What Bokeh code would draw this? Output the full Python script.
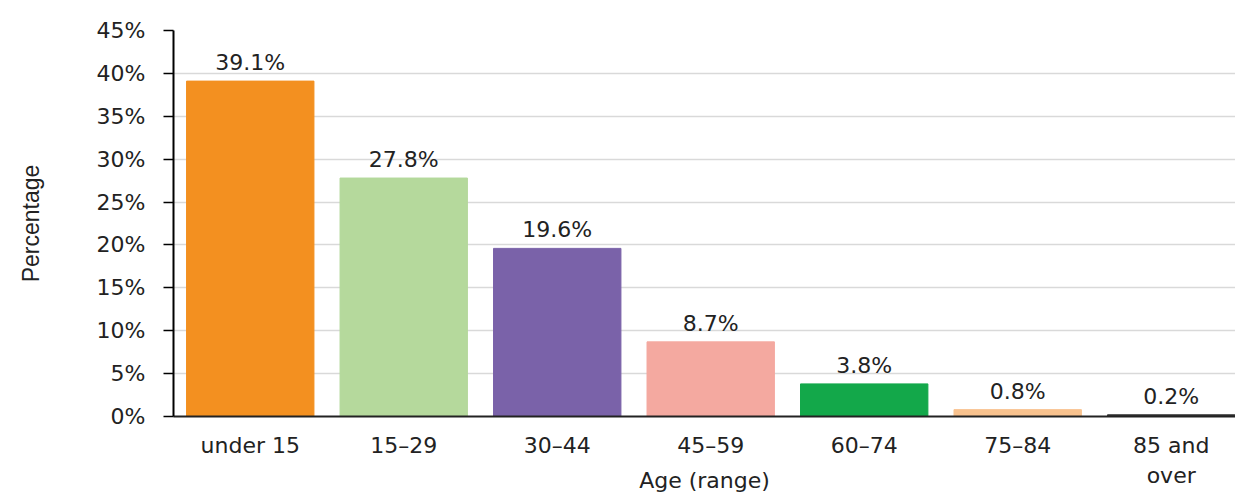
from bokeh.plotting import figure
from bokeh.models import Range1d, FixedTicker, PrintfTickFormatter, ColumnDataSource
from bokeh.core.properties import value
from bokeh.embed import file_html
from bokeh.resources import INLINE

categories = ["under 15", "15\u201329", "30\u201344", "45\u201359", "60\u201374", "75\u201384", "85 and\nover"]
values = [39.1, 27.8, 19.6, 8.7, 3.8, 0.8, 0.2]
colors = ["#F39020", "#B5D99C", "#7A62A9", "#F4A9A0", "#13A84A", "#F8C28E", "#333333"]
y_ticks = [0, 5, 10, 15, 20, 25, 30, 35, 40, 45]

xs = [i + 0.5 for i in range(len(categories))]
labels = [f"{v}%" for v in values]
src = ColumnDataSource(dict(x=xs, top=values, color=colors, label=labels))

FONT = "DejaVu Sans"
FS = "22px"

p = figure(width=1235, height=495, output_backend="svg", toolbar_location=None,
           x_range=Range1d(0, 6.919), y_range=Range1d(0, 45),
           min_border_left=173, min_border_right=0, min_border_top=30, min_border_bottom=79)

p.vbar(x="x", top="top", bottom=0, width=0.83, color="color", source=src)
p.text(x="x", y="top", text="label", source=src, text_align="center", text_baseline="bottom",
       y_offset=-6, text_font=value(FONT), text_font_size=FS, text_color="#222222")

p.outline_line_color = None
p.xgrid.grid_line_color = None
p.ygrid.grid_line_color = "#d9d9d9"
p.ygrid.grid_line_width = 1.5
p.ygrid.ticker = FixedTicker(ticks=y_ticks)

ya = p.yaxis[0]
ya.ticker = FixedTicker(ticks=y_ticks)
ya.formatter = PrintfTickFormatter(format="%d%%")
ya.axis_line_color = "black"
ya.axis_line_width = 2
ya.major_tick_out = 10
ya.major_tick_in = 0
ya.major_tick_line_color = "black"
ya.major_tick_line_width = 1.5
ya.minor_tick_line_color = None
ya.major_label_standoff = 18
ya.major_label_text_font = FONT
ya.major_label_text_font_size = FS
ya.major_label_text_color = "#222222"
ya.axis_label = "Percentage"
ya.axis_label_text_font = "Liberation Sans"
ya.axis_label_text_font_size = "23px"
ya.axis_label_text_font_style = "normal"
ya.axis_label_text_color = "#222222"
ya.axis_label_standoff = 50

xa = p.xaxis[0]
xa.ticker = FixedTicker(ticks=xs)
xa.major_label_overrides = {x: c for x, c in zip(xs, categories)}
xa.axis_line_color = "#222222"
xa.axis_line_width = 2
xa.major_tick_line_color = None
xa.minor_tick_line_color = None
xa.major_label_standoff = 10
xa.major_label_text_font = FONT
xa.major_label_text_font_size = FS
xa.major_label_text_color = "#222222"
xa.axis_label = "Age (range)"
xa.axis_label_text_font = FONT
xa.axis_label_text_font_size = FS
xa.axis_label_text_font_style = "normal"
xa.axis_label_text_color = "#222222"
xa.axis_label_standoff = -23

open("out.html", "w").write(file_html(p, INLINE))
